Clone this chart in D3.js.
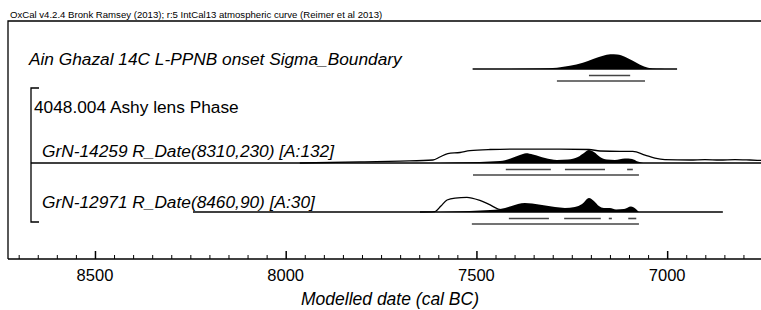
<!DOCTYPE html>
<html>
<head>
<meta charset="utf-8">
<script src="https://cdn.jsdelivr.net/npm/d3@7"></script>
<style>
body { margin: 0; background: #fff; }
svg { display: block; font-family: "Liberation Sans", Arial, sans-serif; }
</style>
</head>
<body>
<div id="chart"></div>
<script>
// dates are cal BC
var headerText = "OxCal v4.2.4 Bronk Ramsey (2013); r:5 IntCal13 atmospheric curve (Reimer et al 2013)";
var axisTitle = "Modelled date (cal BC)";
var tickYears = [8500, 8000, 7500, 7000];

var rowLabels = ["Ain Ghazal 14C L-PPNB onset Sigma_Boundary",
  "4048.004 Ashy lens Phase",
  "GrN-14259 R_Date(8310,230) [A:132]",
  "GrN-12971 R_Date(8460,90) [A:30]"];

// Sigma_Boundary posterior
var boundYears = [7412, 7333, 7289, 7255, 7221, 7194, 7168, 7149, 7131, 7111, 7090, 7071, 7050, 7027, 7006];
var boundProb  = [0, 0.03, 0.09, 0.22, 0.42, 0.67, 0.89, 0.98, 0.97, 0.82, 0.55, 0.29, 0.09, 0.01, 0];
var boundSpan = [7510, 6974];
var bound68 = [[7205, 7097]];
var bound95 = [[7289, 7058]];

// GrN-14259
var g1LikeYears = [7963, 7805, 7700, 7614, 7596, 7575, 7543, 7517, 7464, 7386, 7281, 7205, 7176, 7124, 7090, 7058, 7032, 7006, 6940, 6901, 6862, 6822, 6783, 6754];
var g1LikeProb  = [0, 0.07, 0.13, 0.2, 0.4, 0.63, 0.7, 0.83, 0.9, 0.93, 0.93, 0.9, 0.8, 0.77, 0.77, 0.53, 0.33, 0.23, 0.2, 0.23, 0.2, 0.23, 0.2, 0.17];
var g1PostYears = [7596, 7556, 7491, 7438, 7407, 7386, 7370, 7352, 7320, 7289, 7260, 7234, 7218, 7205, 7192, 7176, 7158, 7137, 7111, 7092, 7077, 7063];
var g1PostProb  = [0, 0.03, 0.07, 0.13, 0.33, 0.53, 0.65, 0.57, 0.33, 0.2, 0.23, 0.4, 0.67, 0.87, 0.73, 0.4, 0.23, 0.2, 0.3, 0.27, 0.1, 0];
var g1Span = [8668, 6754];
var g1_68 = [[7423, 7305], [7268, 7163], [7105, 7090]];
var g1_95 = [[7509, 7074]];

// GrN-12971
var g2LikeYears = [7648, 7609, 7593, 7577, 7556, 7525, 7512, 7491, 7464, 7443, 7425, 7400];
var g2LikeProb  = [0, 0.03, 0.4, 0.8, 0.93, 0.97, 0.93, 0.77, 0.47, 0.2, 0.13, 0.1];
var g2PostYears = [7596, 7517, 7464, 7438, 7412, 7391, 7373, 7354, 7328, 7294, 7268, 7242, 7223, 7205, 7192, 7179, 7166, 7150, 7134, 7113, 7095, 7082, 7074];
var g2PostProb  = [0, 0.07, 0.13, 0.2, 0.37, 0.53, 0.6, 0.57, 0.47, 0.33, 0.27, 0.33, 0.53, 0.93, 0.73, 0.4, 0.27, 0.27, 0.17, 0.2, 0.37, 0.2, 0];
var g2Span = [8243, 6854];
var g2_68 = [[7415, 7310], [7270, 7174], [7153, 7145], [7102, 7081]];
var g2_95 = [[7512, 7074]];

var width = 761, height = 310;
var left = 8, right = 761, axisY = 259, frameTop = 21;
var distH = 15;

var svg = d3.select("#chart").append("svg")
  .attr("width", width)
  .attr("height", height);

var x = d3.scaleLinear()
  .domain([8728, 6754])
  .range([left, right]);

function zip(years, probs) {
  return years.map(function(y, i) { return [y, probs[i]]; });
}

// one distribution row
function drawRow(base, post, like, span, r68, r95) {
  var y = d3.scaleLinear().domain([0, 1]).range([base, base - distH]);
  var g = svg.append("g");

  g.append("line")
    .attr("x1", x(span[0])).attr("x2", x(span[1]))
    .attr("y1", base).attr("y2", base)
    .attr("stroke", "#000").attr("stroke-width", 1.6);

  if (post) {
    g.append("path")
      .datum(post)
      .attr("d", d3.area()
        .x(function(d) { return x(d[0]); })
        .y0(base)
        .y1(function(d) { return y(d[1]); })
        .curve(d3.curveMonotoneX))
      .attr("fill", "#000");
  }
  if (like) {
    g.append("path")
      .datum(like)
      .attr("d", d3.line()
        .x(function(d) { return x(d[0]); })
        .y(function(d) { return y(d[1]); })
        .curve(d3.curveMonotoneX))
      .attr("fill", "none")
      .attr("stroke", "#000")
      .attr("stroke-width", 1.3);
  }

  r68.forEach(function(r) {
    g.append("line")
      .attr("x1", x(r[0])).attr("x2", x(r[1]))
      .attr("y1", base + 6.5).attr("y2", base + 6.5)
      .attr("stroke", "#444").attr("stroke-width", 1.6);
  });
  r95.forEach(function(r) {
    g.append("line")
      .attr("x1", x(r[0])).attr("x2", x(r[1]))
      .attr("y1", base + 12).attr("y2", base + 12)
      .attr("stroke", "#444").attr("stroke-width", 1.6);
  });
}

// header + frame
svg.append("text")
  .attr("x", 10).attr("y", 18)
  .attr("font-size", 9.6)
  .text(headerText);

svg.append("path")
  .attr("d", "M" + right + "," + frameTop + "H" + left + "V" + axisY)
  .attr("fill", "none")
  .attr("stroke", "#000")
  .attr("stroke-width", 1.3);

// labels
var labelPos = [[29, 65, true], [34, 113, false], [42, 157, true], [42, 208, true]];
rowLabels.forEach(function(t, i) {
  svg.append("text")
    .attr("x", labelPos[i][0]).attr("y", labelPos[i][1])
    .attr("font-size", 17.3)
    .attr("font-style", labelPos[i][2] ? "italic" : "normal")
    .text(t);
});

// phase bracket
svg.append("path")
  .attr("d", "M39,88H31V222H39")
  .attr("fill", "none")
  .attr("stroke", "#000")
  .attr("stroke-width", 1.3);

drawRow(69, zip(boundYears, boundProb), null, boundSpan, bound68, bound95);
drawRow(163, zip(g1PostYears, g1PostProb), zip(g1LikeYears, g1LikeProb), g1Span, g1_68, g1_95);
drawRow(212, zip(g2PostYears, g2PostProb), zip(g2LikeYears, g2LikeProb), g2Span, g2_68, g2_95);

// axis
var axis = d3.axisTop(x)
  .tickValues(d3.range(8700, 6750, -50))
  .tickSize(4)
  .tickFormat("");

var ax = svg.append("g")
  .attr("transform", "translate(0," + axisY + ")")
  .call(axis);
ax.select(".domain").remove();
ax.selectAll(".tick line").attr("stroke-width", 1);
ax.selectAll(".tick").filter(function(d) { return tickYears.indexOf(d) >= 0; })
  .select("line").attr("y2", -8).attr("stroke-width", 1.5);

svg.append("line")
  .attr("x1", left).attr("x2", right)
  .attr("y1", axisY).attr("y2", axisY)
  .attr("stroke", "#000").attr("stroke-width", 1.5);

svg.selectAll(".tlab")
  .data(tickYears)
  .enter().append("text")
  .attr("class", "tlab")
  .attr("x", function(d) { return x(d); })
  .attr("y", 281)
  .attr("text-anchor", "middle")
  .attr("font-size", 16.5)
  .text(function(d) { return d; });

svg.append("text")
  .attr("x", 390).attr("y", 305)
  .attr("text-anchor", "middle")
  .attr("font-size", 17.5)
  .attr("font-style", "italic")
  .text(axisTitle);
</script>
</body>
</html>
